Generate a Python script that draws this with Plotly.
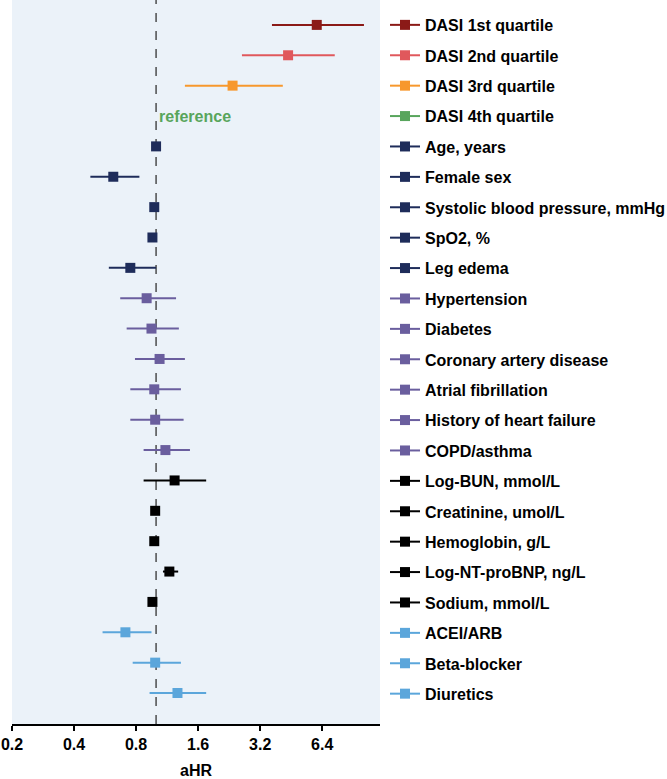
import plotly.graph_objects as go

labels = ["DASI 1st quartile", "DASI 2nd quartile", "DASI 3rd quartile", "DASI 4th quartile",
          "Age, years", "Female sex", "Systolic blood pressure, mmHg", "SpO2, %", "Leg edema",
          "Hypertension", "Diabetes", "Coronary artery disease", "Atrial fibrillation",
          "History of heart failure", "COPD/asthma", "Log-BUN, mmol/L", "Creatinine, umol/L",
          "Hemoglobin, g/L", "Log-NT-proBNP, ng/L", "Sodium, mmol/L", "ACEI/ARB",
          "Beta-blocker", "Diuretics"]
hr = [6.02, 4.37, 2.35, None, 1.00, 0.62, 0.98, 0.96, 0.75, 0.90, 0.95, 1.04, 0.98, 0.99,
      1.11, 1.23, 0.99, 0.98, 1.16, 0.96, 0.71, 0.99, 1.27]
lo = [3.65, 2.61, 1.38, None, 0.99, 0.48, 0.97, 0.95, 0.59, 0.67, 0.72, 0.79, 0.75, 0.75,
      0.87, 0.87, 0.98, 0.97, 1.08, 0.95, 0.55, 0.77, 0.93]
hi = [10.2, 7.36, 4.12, None, 1.01, 0.83, 0.99, 0.97, 1.00, 1.25, 1.29, 1.38, 1.32, 1.36,
      1.46, 1.75, 1.00, 0.99, 1.28, 0.97, 0.95, 1.32, 1.75]
colors = ["#8B1A17", "#E0585C", "#F7982D", "#58A55C"] + ["#1E2C5A"] * 5 + ["#6A5E9E"] * 6 + \
         ["#000000"] * 5 + ["#5BA6DB"] * 3
xticks = [0.2, 0.4, 0.8, 1.6, 3.2, 6.4]
xtick_text = ["0.2", "0.4", "0.8", "1.6", "3.2", "6.4"]

FONT = "Liberation Sans, Arial, sans-serif"

fig = go.Figure()
for i, lab in enumerate(labels):
    if hr[i] is None:
        xs, ep, em = [None], None, None
    else:
        xs = [hr[i]]
        ep = [hi[i] - hr[i]]
        em = [hr[i] - lo[i]]
    fig.add_trace(go.Scatter(
        x=xs, y=[i], mode="lines+markers", name=lab, legendgroup=f"g{i}",
        marker=dict(symbol="square", size=10, color=colors[i]),
        line=dict(color=colors[i], width=2),
        error_x=dict(type="data", symmetric=False, array=ep, arrayminus=em,
                     color=colors[i], thickness=2, width=0) if ep else None,
        hoverinfo="skip",
    ))

fig.add_vline(x=1, line=dict(color="#333333", width=1.3, dash="dash"), layer="below")
fig.add_annotation(x=0, y=3, xref="x", yref="y", text="reference", showarrow=False,
                   xanchor="left", xshift=1,
                   font=dict(color="#58A55C", size=16, family=FONT, weight="bold"))

fig.update_layout(
    width=667, height=779,
    margin=dict(l=12, r=287, t=0, b=55, autoexpand=False),
    plot_bgcolor="#EBF2F9", paper_bgcolor="white",
    font=dict(family=FONT, size=16, color="black", weight="bold"),
    legend=dict(x=1.0136, xanchor="left", y=0.989, yanchor="top", tracegroupgap=6.6,
                font=dict(size=16, family=FONT, weight="bold"), itemwidth=30,
                bgcolor="rgba(0,0,0,0)"),
    showlegend=True,
)
fig.update_xaxes(type="log", range=[-0.69897, 1.0864], tickvals=xticks,
                 ticktext=xtick_text, automargin=False,
                 tickfont=dict(size=16, family=FONT, weight="bold"),
                 showgrid=False, zeroline=False, showline=True, linecolor="black",
                 linewidth=2, ticks="outside", ticklen=5, tickwidth=2, tickcolor="black",
                 title=dict(text="aHR", font=dict(size=16, family=FONT, weight="bold"),
                            standoff=14))
fig.update_yaxes(range=[23.02, -0.82], showticklabels=False, showgrid=False,
                 zeroline=False, showline=False, ticks="", automargin=False)

fig.write_html("out.html", config={"displayModeBar": False},
               post_script="document.body.style.margin='0';document.body.style.overflow='hidden';")
